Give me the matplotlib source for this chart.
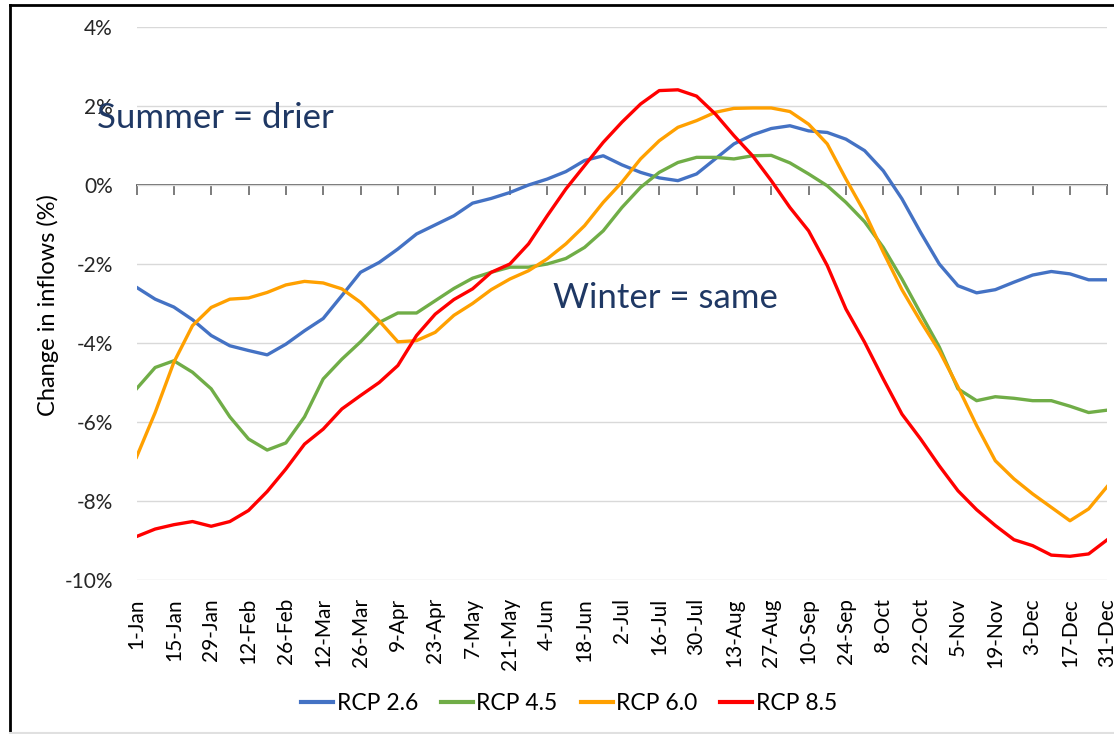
import matplotlib
matplotlib.use("Agg")
import matplotlib.pyplot as plt
from matplotlib.lines import Line2D

plt.rcParams["font.family"] = ["Lato", "DejaVu Sans"]

# --- data (weekly values, % change in inflows) ---
date_labels = ["1-Jan", "15-Jan", "29-Jan", "12-Feb", "26-Feb", "12-Mar", "26-Mar",
               "9-Apr", "23-Apr", "7-May", "21-May", "4-Jun", "18-Jun", "2-Jul",
               "16-Jul", "30-Jul", "13-Aug", "27-Aug", "10-Sep", "24-Sep", "8-Oct",
               "22-Oct", "5-Nov", "19-Nov", "3-Dec", "17-Dec", "31-Dec"]

rcp26 = [-2.59, -2.89, -3.09, -3.41, -3.81, -4.07, -4.19, -4.30, -4.03, -3.69,
         -3.38, -2.80, -2.21, -1.96, -1.62, -1.24, -1.01, -0.78, -0.46, -0.34,
         -0.19, 0.00, 0.15, 0.34, 0.62, 0.74, 0.51, 0.32, 0.18, 0.11,
         0.28, 0.66, 1.04, 1.27, 1.43, 1.50, 1.37, 1.33, 1.16, 0.87,
         0.36, -0.35, -1.20, -2.00, -2.55, -2.73, -2.65, -2.46, -2.28, -2.19,
         -2.25, -2.40, -2.40]
rcp45 = [-5.16, -4.62, -4.45, -4.74, -5.16, -5.87, -6.43, -6.71, -6.53, -5.87,
         -4.91, -4.41, -3.97, -3.48, -3.24, -3.24, -2.93, -2.62, -2.36, -2.21,
         -2.08, -2.08, -2.00, -1.86, -1.58, -1.16, -0.57, -0.06, 0.32, 0.57,
         0.70, 0.70, 0.66, 0.74, 0.75, 0.56, 0.28, -0.02, -0.44, -0.93,
         -1.58, -2.38, -3.25, -4.10, -5.16, -5.46, -5.36, -5.40, -5.46, -5.46,
         -5.60, -5.76, -5.70]
rcp60 = [-6.89, -5.76, -4.49, -3.56, -3.10, -2.89, -2.86, -2.72, -2.53, -2.44,
         -2.48, -2.63, -2.97, -3.44, -3.97, -3.94, -3.73, -3.30, -3.00, -2.65,
         -2.38, -2.17, -1.87, -1.49, -1.03, -0.44, 0.07, 0.66, 1.12, 1.46,
         1.63, 1.84, 1.94, 1.95, 1.95, 1.86, 1.54, 1.04, 0.15, -0.69,
         -1.70, -2.65, -3.45, -4.20, -5.11, -6.09, -6.98, -7.44, -7.82, -8.16,
         -8.50, -8.20, -7.63]
rcp85 = [-8.90, -8.71, -8.60, -8.52, -8.64, -8.52, -8.24, -7.76, -7.19, -6.56,
         -6.18, -5.67, -5.33, -5.00, -4.57, -3.81, -3.27, -2.90, -2.63, -2.21,
         -2.00, -1.49, -0.78, -0.10, 0.49, 1.08, 1.59, 2.05, 2.39, 2.41,
         2.25, 1.80, 1.25, 0.74, 0.11, -0.57, -1.16, -2.04, -3.14, -3.98,
         -4.91, -5.80, -6.43, -7.11, -7.74, -8.22, -8.62, -8.98, -9.13, -9.37,
         -9.40, -9.34, -8.98]

series_names = ["RCP 2.6", "RCP 4.5", "RCP 6.0", "RCP 8.5"]
series_colors = ["#4472C4", "#70AD47", "#FFA000", "#FF0000"]
y_ticks = [-10, -8, -6, -4, -2, 0, 2, 4]

# --- figure ---
fig = plt.figure(figsize=(11.14, 7.34), dpi=100)
ax = fig.add_axes([136.5 / 1114, 1 - 580 / 734, (1107.3 - 136.5) / 1114, (580 - 27) / 734])

x = list(range(len(rcp26)))
for vals, name, col in zip([rcp26, rcp45, rcp60, rcp85], series_names, series_colors):
    ax.plot(x, vals, color=col, lw=2.4, label=name, solid_joinstyle="round")

ax.set_xlim(0, len(rcp26) - 1)
ax.set_ylim(-10, 4)

# y axis: gridlines only, no axis line
ax.set_yticks(y_ticks)
ax.set_yticklabels([f"{v}%" for v in y_ticks])
ax.yaxis.grid(True, color="#D9D9D9", lw=1.0)
ax.set_axisbelow(True)
ax.tick_params(axis="y", length=0, pad=17, labelsize=15, labelcolor="#262626")
for s in ax.spines.values():
    s.set_visible(False)

# category labels at the bottom
ax.set_xticks(x[::2])
ax.set_xticklabels(date_labels, rotation=90, fontsize=15)
ax.tick_params(axis="x", length=0, pad=13)

# horizontal axis line at 0% with tick marks
sec = ax.secondary_xaxis(10 / 14)
sec.set_alignment("bottom")
sec.set_xticks(x[::2])
sec.set_xticklabels([])
sec.tick_params(axis="x", direction="out", length=7, width=1.1, color="#595959")
sec.spines["bottom"].set_color("#595959")
sec.spines["bottom"].set_linewidth(1.3)
sec.spines["top"].set_visible(False)

fig.text(48 / 1114, 1 - 305 / 734, "Change in inflows (%)", rotation=90,
         ha="center", va="center", fontsize=17, color="black")

# annotations
ax.text(-2.1, 1.7, "Summer = drier", fontsize=25, color="#1F3864", va="center", ha="left")
ax.text(22.3, -2.85, "Winter = same", fontsize=25, color="#1F3864", va="center", ha="left")

# legend
handles = [Line2D([], [], color=c, lw=3) for c in series_colors]
fig.legend(handles, series_names, loc="center", bbox_to_anchor=(569 / 1114, 1 - 704 / 734),
           ncol=4, frameon=False, fontsize=16.5, handlelength=1.4, handletextpad=0.15,
           columnspacing=1.0)

# picture frame
fig.add_artist(Line2D([10 / 1114, 1], [1 - 5 / 734, 1 - 5 / 734], color="black", lw=2))
fig.add_artist(Line2D([10 / 1114, 10 / 1114], [0, 1 - 5 / 734], color="black", lw=2))
fig.add_artist(Line2D([10 / 1114, 1], [1 / 734, 1 / 734], color="#E0E0E0", lw=1.5))

fig.savefig("out.png", dpi=100)
